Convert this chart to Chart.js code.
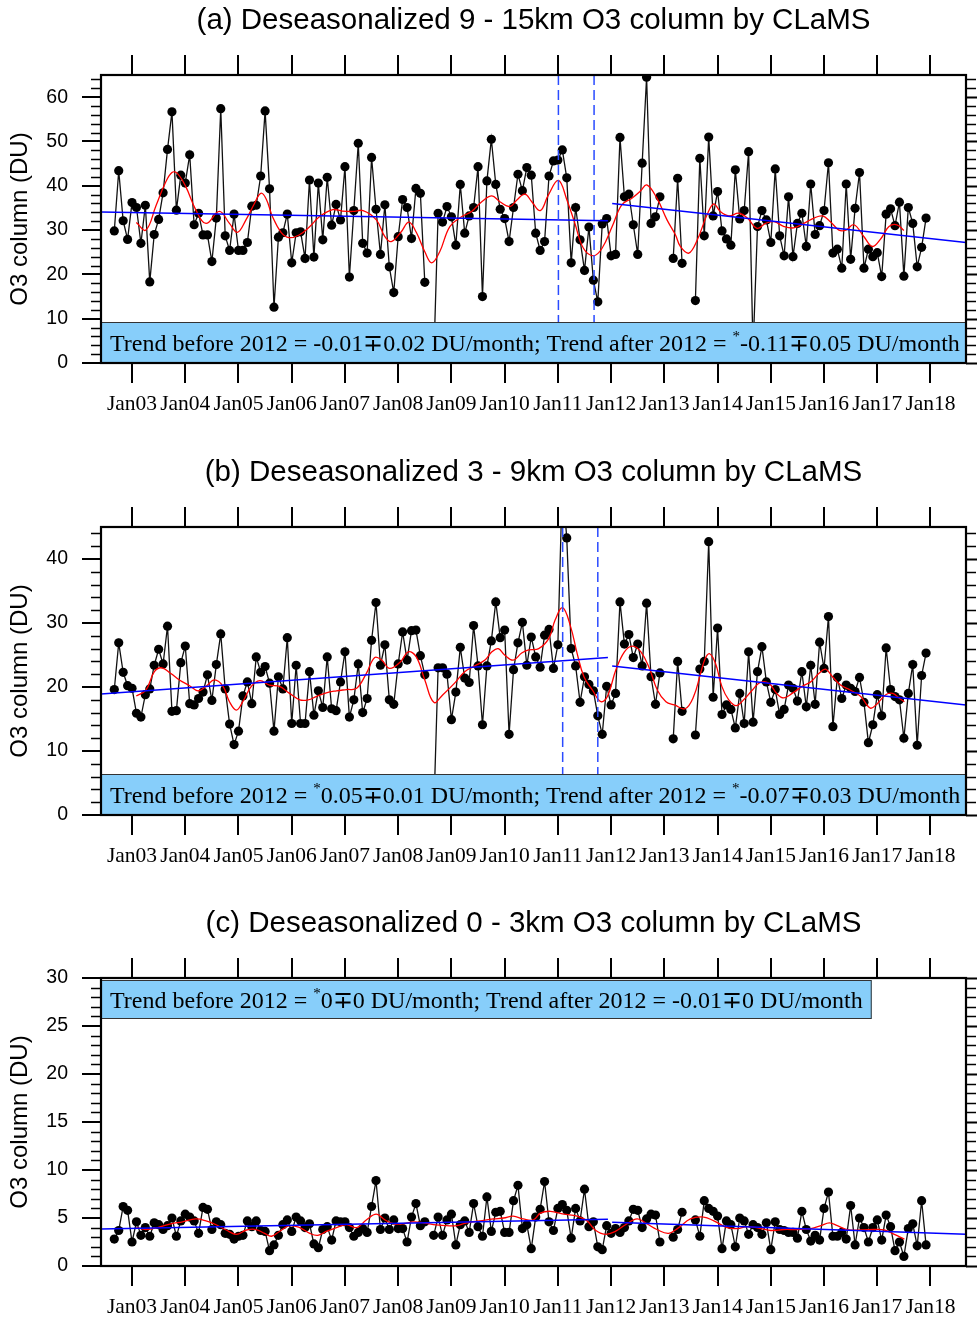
<!DOCTYPE html>
<html>
<head>
<meta charset="utf-8">
<title>Deseasonalized O3 column by CLaMS</title>
<script src="https://cdn.jsdelivr.net/npm/chart.js"></script>
<style>
  html, body { margin: 0; padding: 0; background: #fff; overflow: hidden; width: 977px; height: 1322px; }
  canvas { position: absolute; left: 0; }
</style>
</head>
<body>
<canvas id="chartA" width="977" height="452" style="top:0px"></canvas>
<canvas id="chartB" width="977" height="452" style="top:452px"></canvas>
<canvas id="chartC" width="977" height="452" style="top:903px"></canvas>

<script>
  // monthly values, Sep 2002 .. Dec 2017 (null = missing month)
  const startYear = 2002, startMonth = 9;
  const yearTicks = [2003, 2004, 2005, 2006, 2007, 2008, 2009, 2010, 2011, 2012, 2013, 2014, 2015, 2016, 2017, 2018];
  const xMin = 2002.417, xMax = 2018.667;

  const o3High = [
    29.8, 43.4, 32.1, 27.9, 36.2, 35.1, 27.0, 35.6, 18.3, 29.0, 32.4, 38.4, 48.2, 56.7, 34.5, 42.4,
    40.6, 47.0, 31.2, 33.8, 28.9, 28.9, 22.9, 32.7, 57.4, 28.7, 25.4, 33.6, 25.4, 25.4, 27.2, 35.4,
    35.6, 42.2, 56.9, 39.3, 12.6, 28.4, 29.4, 33.6, 22.6, 29.4, 29.6, 23.6, 41.3, 23.9, 40.6, 27.8,
    41.9, 31.1, 35.8, 32.3, 44.3, 19.4, 34.4, 49.6, 27.0, 24.8, 46.4, 34.7, 24.5, 35.7, 21.7, 15.9,
    28.5, 36.9, 35.1, 28.1, 39.4, 38.3, 18.2, null, 0, 33.8, 31.8, 35.3, 33.0, 26.6, 40.3, 29.3,
    33.2, 35.1, 44.3, 15.0, 41.1, 50.5, 40.3, 34.7, 32.6, 27.4, 35.1, 42.6, 38.9, 44.1, 42.4, 29.3,
    25.4, 27.4, 42.2, 45.6, 45.8, 48.1, 41.8, 22.6, 35.1, 27.8, 20.9, 30.7, 18.7, 13.8, 31.4, 32.6,
    24.2, 24.5, 50.9, 37.5, 38.1, 31.2, 24.5, 45.1, 64.5, 31.5, 33.0, 37.5, null, null, 23.6, 41.7,
    22.5, null, null, 14.1, 46.2, 28.7, 51.0, 33.2, 38.7, 29.8, 28.0, 26.6, 43.6, 32.5, 34.4, 47.7,
    3, 30.8, 34.4, 32.3, 27.2, 43.8, 28.7, 24.2, 37.5, 24.0, 31.5, 33.8, 26.3, 40.4, 29.0, 31.0,
    34.4, 45.2, 24.8, 25.7, 21.4, 40.4, 23.4, 34.9, 43.0, 21.4, 25.7, 24.0, 24.9, 19.5, 33.6, 34.8,
    31.0, 36.3, 19.6, 35.1, 31.5, 21.7, 26.1, 32.7
  ];
  const o3Mid = [
    19.6, 26.9, 22.3, 20.2, 19.8, 15.9, 15.3, 18.8, 19.7, 23.4, 25.9, 23.6, 29.5, 16.2, 16.3, 23.8,
    26.4, 17.4, 17.2, 18.2, 19.2, 21.9, 17.9, 23.5, 28.3, 19.7, 14.2, 11.0, 13.1, 18.6, 20.8, 17.4,
    24.7, 22.3, 23.2, 20.6, 13.1, 21.6, 19.7, 27.7, 14.3, 23.4, 14.3, 14.3, 22.4, 15.6, 19.4, 16.8,
    24.7, 16.6, 16.3, 20.8, 25.5, 15.3, 18.0, 23.6, 16.0, 18.2, 27.3, 33.2, 23.4, 26.6, 18.0, 17.3,
    23.6, 28.6, 24.2, 28.8, 28.9, 24.9, 21.9, null, 0, 23.0, 23.0, 22.0, 14.9, 19.2, 26.2, 21.4,
    20.7, 29.6, 23.3, 14.1, 23.3, 27.2, 33.3, 27.7, 28.9, 12.6, 22.7, 26.9, 30.1, 23.4, 27.8, 24.7,
    23.1, 28.1, 29.0, 22.9, 26.6, 52.0, 43.3, 26.0, 23.3, 17.6, 21.6, 20.4, 19.4, 15.5, 12.6, 20.1,
    17.2, 19.0, 33.3, 26.7, 28.2, 24.6, 26.7, 23.3, 33.1, 21.6, 17.3, 22.2, null, null, 11.9, 24.0,
    16.2, null, null, 12.5, 22.8, 24.0, 42.7, 18.4, 29.2, 15.7, 17.2, 16.5, 13.6, 19.0, 14.3, 25.5,
    14.5, 22.4, 26.3, 20.8, 17.6, 19.6, 15.7, 16.5, 20.3, 19.8, 17.8, 22.4, 16.9, 23.4, 17.3, 27.0,
    22.9, 31.0, 13.8, 21.5, 18.2, 20.3, 19.8, 19.3, 21.5, 17.6, 11.3, 14.1, 18.8, 15.5, 26.1, 19.6,
    18.5, 18.0, 12.0, 19.0, 23.5, 10.9, 21.8, 25.3
  ];
  const o3Low = [
    2.8, 3.7, 6.2, 5.8, 2.5, 4.6, 3.2, 4.0, 3.1, 4.5, 4.3, 3.8, 4.2, 5.0, 3.1, 4.7,
    5.4, 5.1, 4.7, 3.4, 6.1, 5.9, 3.8, 4.6, 4.3, 3.4, 3.3, 2.8, 3.1, 3.2, 4.7, 4.1,
    4.7, 3.7, 3.6, 1.6, 2.2, 3.2, 4.3, 4.8, 3.6, 5.1, 4.7, 4.0, 4.4, 2.3, 1.9, 3.8,
    4.1, 2.7, 4.7, 4.6, 4.6, 4.0, 3.1, 3.5, 3.9, 3.5, 6.2, 8.9, 3.8, 5.0, 3.8, 4.8,
    3.9, 3.9, 2.5, 5.1, 6.5, 4.2, 4.6, null, 3.2, 5.1, 3.2, 4.8, 5.4, 2.2, 4.3, 4.7,
    3.5, 6.5, 4.1, 3.1, 7.2, 3.6, 5.6, 5.7, 3.5, 3.5, 6.8, 8.4, 3.9, 4.3, 1.8, 5.1,
    5.9, 8.8, 4.6, 3.7, 6.0, 6.4, 5.8, 2.9, 6.0, 4.7, 8.0, 4.1, 4.6, 2.0, 1.7, 4.2,
    3.4, 3.9, 3.5, 4.0, 4.7, 5.9, 5.8, 4.0, 4.9, 5.4, 5.3, 2.5, null, null, 3.0, 3.8,
    5.6, null, null, 4.8, 3.1, 6.8, 6.0, 5.7, 5.2, 1.8, 4.7, 4.3, 2.0, 5.0, 4.7, 3.3,
    4.3, 4.0, 3.3, 4.5, 1.7, 4.6, 3.8, 3.7, 3.5, 3.5, 2.9, 5.7, 3.8, 2.6, 3.2, 2.7,
    6.0, 7.7, 3.1, 3.1, 3.5, 2.8, 6.3, 2.2, 5.0, 4.0, 2.5, 4.0, 4.8, 2.7, 5.3, 4.1,
    1.6, 2.5, 1.0, 3.9, 4.4, 2.1, 6.8, 2.2
  ];

  // smoothed curves (red)
  const smoothTimeHigh = [2003.08, 2003.26, 2003.45, 2003.62, 2003.75, 2003.85, 2004.01, 2004.20, 2004.39, 2004.64, 2004.83,
    2004.98, 2005.14, 2005.30, 2005.42, 2005.52, 2005.64, 2005.80, 2005.95, 2006.14, 2006.34, 2006.52, 2006.77, 2006.95,
    2007.15, 2007.34, 2007.59, 2007.75, 2007.87, 2008.05, 2008.20, 2008.34, 2008.50, 2008.63, 2008.78, 2008.97, 2009.19,
    2009.38, 2009.57, 2009.76, 2009.91, 2010.10, 2010.23, 2010.38, 2010.51, 2010.67, 2010.82, 2011.01, 2011.17, 2011.32,
    2011.48, 2011.67, 2011.83, 2012.02, 2012.20, 2012.39, 2012.55, 2012.67, 2012.86, 2013.05, 2013.21, 2013.30, 2013.46,
    2013.62, 2013.80, 2013.93, 2014.05, 2014.21, 2014.40, 2014.56, 2014.74, 2014.90, 2015.06, 2015.25, 2015.43, 2015.62,
    2015.81, 2015.97, 2016.12, 2016.28, 2016.41, 2016.56, 2016.75, 2016.91, 2017.07, 2017.22, 2017.37, 2017.50];
  const smoothHigh = [31.7, 30.0, 35.5, 40.5, 43.0, 42.8, 39.8, 34.5, 31.5, 34.2, 31.5,
    29.5, 32.3, 36.0, 38.3, 37.0, 33.0, 29.5, 28.3, 28.9, 30.8, 33.0, 34.6, 34.3,
    34.2, 34.4, 32.3, 28.5, 27.4, 29.5, 31.8, 29.5, 25.1, 22.6, 25.1, 30.8, 33.0,
    34.2, 36.4, 37.7, 36.4, 35.3, 36.8, 38.1, 36.4, 34.4, 37.9, 41.2, 36.8, 31.5,
    25.9, 24.2, 25.9, 30.8, 35.7, 37.2, 38.8, 40.2, 37.2, 32.3, 28.9, 26.3, 24.8,
    27.8, 33.4, 35.9, 34.2, 33.2, 33.8, 32.7, 30.4, 31.5, 31.9, 30.8, 30.5, 31.5,
    32.7, 33.2, 31.9, 30.0, 30.0, 31.2, 28.5, 26.3, 28.1, 30.8, 31.2, 29.9];

  const smoothTimeMid = [2003.08, 2003.26, 2003.42, 2003.56, 2003.73, 2003.89, 2004.08, 2004.24, 2004.39, 2004.55, 2004.71,
    2004.83, 2004.96, 2005.08, 2005.24, 2005.40, 2005.58, 2005.77, 2005.96, 2006.15, 2006.31, 2006.46, 2006.65, 2006.84,
    2007.03, 2007.22, 2007.40, 2007.56, 2007.69, 2007.84, 2008.05, 2008.19, 2008.34, 2008.50, 2008.67, 2008.84, 2009.06,
    2009.25, 2009.44, 2009.63, 2009.76, 2009.88, 2010.00, 2010.16, 2010.32, 2010.45, 2010.64, 2010.83, 2010.95, 2011.09,
    2011.24, 2011.36, 2011.49, 2011.65, 2011.81, 2011.93, 2012.09, 2012.25, 2012.40, 2012.56, 2012.72, 2012.87, 2013.03,
    2013.19, 2013.39, 2013.55, 2013.68, 2013.77, 2013.85, 2013.96, 2014.08, 2014.21, 2014.35, 2014.49, 2014.65, 2014.80,
    2014.96, 2015.12, 2015.24, 2015.40, 2015.59, 2015.75, 2015.90, 2016.03, 2016.16, 2016.31, 2016.50, 2016.69, 2016.87,
    2017.00, 2017.16, 2017.29, 2017.42, 2017.51];
  const smoothMid = [18.6, 19.5, 22.4, 23.0, 22.1, 21.1, 20.2, 19.4, 20.1, 21.1, 20.1,
    17.7, 16.4, 17.7, 20.1, 21.0, 20.3, 20.1, 19.0, 18.0, 18.0, 18.5, 19.1, 19.4,
    19.6, 19.8, 22.1, 24.6, 24.2, 22.9, 24.0, 25.5, 24.7, 21.1, 17.6, 18.8, 20.6,
    22.4, 23.3, 24.2, 25.5, 26.0, 25.0, 24.2, 25.3, 25.8, 26.0, 27.6, 30.5, 32.4,
    29.4, 25.3, 21.6, 19.5, 17.7, 18.5, 22.7, 25.5, 26.4, 25.5, 22.9, 19.5, 17.7,
    17.2, 16.6, 18.5, 22.1, 24.5, 25.2, 23.7, 20.1, 18.0, 17.1, 18.0, 19.5, 20.7,
    20.6, 18.9, 18.3, 19.0, 20.1, 20.8, 22.1, 22.8, 21.6, 20.3, 19.5, 18.5, 16.7,
    17.4, 18.8, 19.0, 18.2, 17.7];

  const smoothTimeLow = [2003.08, 2003.26, 2003.48, 2003.73, 2003.95, 2004.20, 2004.39, 2004.58, 2004.77, 2004.96, 2005.15,
    2005.33, 2005.49, 2005.62, 2005.77, 2005.96, 2006.15, 2006.34, 2006.49, 2006.65, 2006.84, 2007.03, 2007.22, 2007.40,
    2007.59, 2007.75, 2007.91, 2008.09, 2008.28, 2008.47, 2008.66, 2008.91, 2009.10, 2009.29, 2009.54, 2009.79, 2009.98,
    2010.16, 2010.35, 2010.54, 2010.67, 2010.86, 2011.11, 2011.36, 2011.55, 2011.70, 2011.89, 2012.08, 2012.27, 2012.49,
    2012.67, 2012.86, 2013.08, 2013.27, 2013.49, 2013.74, 2013.93, 2014.18, 2014.37, 2014.56, 2014.81, 2015.00, 2015.25,
    2015.50, 2015.75, 2015.94, 2016.10, 2016.25, 2016.44, 2016.69, 2016.94, 2017.13, 2017.32, 2017.51];
  const smoothLow = [4.0, 3.8, 4.0, 4.4, 4.6, 4.9, 4.7, 4.3, 3.75, 3.3, 3.75,
    3.8, 3.4, 3.1, 3.6, 4.2, 4.0, 3.4, 3.2, 3.6, 4.0, 4.3, 4.0, 4.8,
    5.4, 4.8, 4.4, 4.4, 4.6, 4.5, 4.3, 4.2, 4.2, 4.5, 4.7, 4.9, 5.0,
    5.2, 4.9, 4.8, 5.5, 5.7, 5.4, 5.2, 4.7, 3.75, 3.3, 3.6, 4.3, 4.9,
    4.4, 3.8, 3.4, 4.0, 4.9, 5.1, 4.7, 4.0, 3.9, 4.1, 3.9, 3.7, 3.8,
    3.8, 3.9, 4.2, 4.5, 4.2, 3.8, 3.75, 3.8, 3.75, 3.3, 2.8];

  // linear trends before / after 2012 (blue)
  const trendBeforeX = [2002.417, 2011.94];
  const trendAfterX = [2012.02, 2018.667];
  const trendBeforeHigh = [34.1, 32.1], trendAfterHigh = [36.0, 27.2];
  const trendBeforeMid = [18.9, 24.6], trendAfterMid = [23.3, 17.2];
  const trendBeforeLow = [3.85, 4.86], trendAfterLow = [4.55, 3.3];

  // dashed vertical markers
  const markersHigh = [2011.01, 2011.68];
  const markersMid = [2011.09, 2011.75];
  const markersLow = [];

  const yTicksHigh = [0, 10, 20, 30, 40, 50, 60];
  const yTicksMid = [0, 10, 20, 30, 40];
  const yTicksLow = [0, 5, 10, 15, 20, 25, 30];

  function monthTime(i) { return startYear + (startMonth - 1 + i) / 12; }

  const SANS = '"Liberation Sans", Arial, sans-serif';
  const SERIF = '"Liberation Serif", "Times New Roman", serif';

  const trendBox = {
    id: 'trendBox',
    afterDatasetsDraw(chart, args, o) {
      const { ctx, chartArea: a } = chart;
      const main = '24px ' + SERIF, sup = '15px ' + SERIF;
      ctx.save();
      let w = 0;
      o.parts.forEach(s => { ctx.font = s.sup ? sup : main; w += ctx.measureText(s.text).width; });
      const bw = Math.min(w + 18, a.right - a.left);
      const bh = o.bottom ? 41 : 39;
      const top = o.bottom ? a.bottom - bh : a.top + 2;
      ctx.fillStyle = '#87cefa';
      ctx.fillRect(a.left, top, bw, bh);
      ctx.strokeStyle = '#333';
      ctx.lineWidth = 1;
      ctx.strokeRect(a.left + 0.5, top + 0.5, bw - 1, bh - 1);
      let x = a.left + 9;
      const base = top + bh / 2 + 8.5;
      ctx.fillStyle = '#000';
      ctx.textAlign = 'left';
      ctx.textBaseline = 'alphabetic';
      o.parts.forEach(s => {
        ctx.font = s.sup ? sup : main;
        ctx.fillText(s.text, x, s.sup ? base - 10 : base);
        x += ctx.measureText(s.text).width;
      });
      ctx.restore();
    }
  };

  const frame = {
    id: 'frame',
    afterDraw(chart, args, o) {
      const { ctx, chartArea: a } = chart;
      const ys = chart.scales.y, xs = chart.scales.x;
      ctx.save();
      ctx.strokeStyle = '#000';
      ctx.lineCap = 'butt';
      for (let k = 0; k * o.minor <= o.yMax + 1e-9; k++) {
        const v = k * o.minor;
        const major = Math.abs(v / o.major - Math.round(v / o.major)) < 1e-6;
        const py = Math.round(ys.getPixelForValue(v)) + 0.5;
        ctx.lineWidth = major ? 2 : 1.5;
        ctx.beginPath();
        if (!major) { ctx.moveTo(a.left - 10, py); ctx.lineTo(a.left, py); }
        ctx.moveTo(a.right, py);
        ctx.lineTo(a.right + (major ? 19 : 10), py);
        ctx.stroke();
      }
      ctx.lineWidth = 2;
      yearTicks.forEach(yr => {
        const px = Math.round(xs.getPixelForValue(yr));
        ctx.beginPath();
        ctx.moveTo(px, a.top - 20);
        ctx.lineTo(px, a.top);
        ctx.stroke();
      });
      ctx.lineWidth = 2.2;
      ctx.strokeRect(a.left, a.top, a.right - a.left, a.bottom - a.top);
      ctx.fillStyle = '#000';
      ctx.font = '29.5px ' + SANS;
      ctx.textAlign = 'center';
      ctx.textBaseline = 'middle';
      ctx.fillText(o.title, (a.left + a.right) / 2, 21);
      ctx.restore();
    }
  };

  function makePanel(id, p) {
    const series = p.values.map((v, i) => ({ x: monthTime(i), y: v }));
    const smooth = p.smoothT.map((t, i) => ({ x: t, y: p.smoothV[i] }));
    const datasets = [
      { data: series, borderColor: '#111', borderWidth: 1.3, pointRadius: 4.6,
        pointBackgroundColor: '#000', pointBorderWidth: 0, spanGaps: false, order: 4 },
      { data: smooth, borderColor: '#ff0000', borderWidth: 1.3, pointRadius: 0, tension: 0.4, order: 3 },
      { data: [{ x: trendBeforeX[0], y: p.before[0] }, { x: trendBeforeX[1], y: p.before[1] }],
        borderColor: '#0000ff', borderWidth: 1.5, pointRadius: 0, order: 2 },
      { data: [{ x: trendAfterX[0], y: p.after[0] }, { x: trendAfterX[1], y: p.after[1] }],
        borderColor: '#0000ff', borderWidth: 1.5, pointRadius: 0, order: 2 }
    ];
    p.markers.forEach(m => datasets.push({
      data: [{ x: m, y: p.yMax }, { x: m, y: 0 }],
      borderColor: '#2a4bff', borderWidth: 1.5, borderDash: [10, 5], pointRadius: 0, order: 1
    }));

    return new Chart(document.getElementById(id), {
      type: 'line',
      data: { datasets },
      plugins: [trendBox, frame],
      options: {
        responsive: false,
        animation: false,
        events: [],
        layout: { padding: { top: 75, right: 11, left: 0, bottom: 0 } },
        plugins: {
          legend: { display: false },
          tooltip: { enabled: false },
          trendBox: { parts: p.box, bottom: p.boxBottom },
          frame: { title: p.title, yMax: p.yMax, minor: p.minor, major: p.major }
        },
        scales: {
          x: {
            type: 'linear', min: xMin, max: xMax,
            afterBuildTicks: s => { s.ticks = yearTicks.map(v => ({ value: v })); },
            afterFit: s => { s.height = 89; },
            ticks: {
              callback: v => 'Jan' + String(v).slice(2),
              font: { family: SERIF, size: 21.5 }, color: '#000',
              padding: 8, autoSkip: false, maxRotation: 0, minRotation: 0
            },
            grid: { drawOnChartArea: false, drawTicks: true, tickLength: 20, color: '#000', lineWidth: 2 },
            border: { display: false }
          },
          y: {
            min: 0, max: p.yMax,
            afterBuildTicks: s => { s.ticks = p.yTicks.map(v => ({ value: v })); },
            afterFit: s => { s.width = 101; },
            ticks: { font: { family: SANS, size: 19.5 }, color: '#000', padding: 14 },
            grid: { drawOnChartArea: false, drawTicks: true, tickLength: 19, color: '#000', lineWidth: 2 },
            border: { display: false },
            title: { display: true, text: 'O3 column (DU)', color: '#000',
              font: { family: SANS, size: 24 }, padding: { top: 6, bottom: 0 } }
          }
        }
      }
    });
  }

  makePanel('chartA', {
    title: '(a) Deseasonalized 9 - 15km O3 column by CLaMS',
    values: o3High, smoothT: smoothTimeHigh, smoothV: smoothHigh,
    before: trendBeforeHigh, after: trendAfterHigh, markers: markersHigh,
    yMax: 65, yTicks: yTicksHigh, minor: 2, major: 10, boxBottom: true,
    box: [
      { text: 'Trend before 2012 = -0.01\u22130.02 DU/month; Trend after 2012 = ' },
      { text: '*', sup: true },
      { text: '-0.11\u22130.05 DU/month' }
    ]
  });

  makePanel('chartB', {
    title: '(b) Deseasonalized 3 - 9km O3 column by CLaMS',
    values: o3Mid, smoothT: smoothTimeMid, smoothV: smoothMid,
    before: trendBeforeMid, after: trendAfterMid, markers: markersMid,
    yMax: 45, yTicks: yTicksMid, minor: 2, major: 10, boxBottom: true,
    box: [
      { text: 'Trend before 2012 = ' },
      { text: '*', sup: true },
      { text: '0.05\u22130.01 DU/month; Trend after 2012 = ' },
      { text: '*', sup: true },
      { text: '-0.07\u22130.03 DU/month' }
    ]
  });

  makePanel('chartC', {
    title: '(c) Deseasonalized 0 - 3km O3 column by CLaMS',
    values: o3Low, smoothT: smoothTimeLow, smoothV: smoothLow,
    before: trendBeforeLow, after: trendAfterLow, markers: markersLow,
    yMax: 30, yTicks: yTicksLow, minor: 1, major: 5, boxBottom: false,
    box: [
      { text: 'Trend before 2012 = ' },
      { text: '*', sup: true },
      { text: '0\u22130 DU/month; Trend after 2012 = -0.01\u22130 DU/month' }
    ]
  });
</script>
</body>
</html>
